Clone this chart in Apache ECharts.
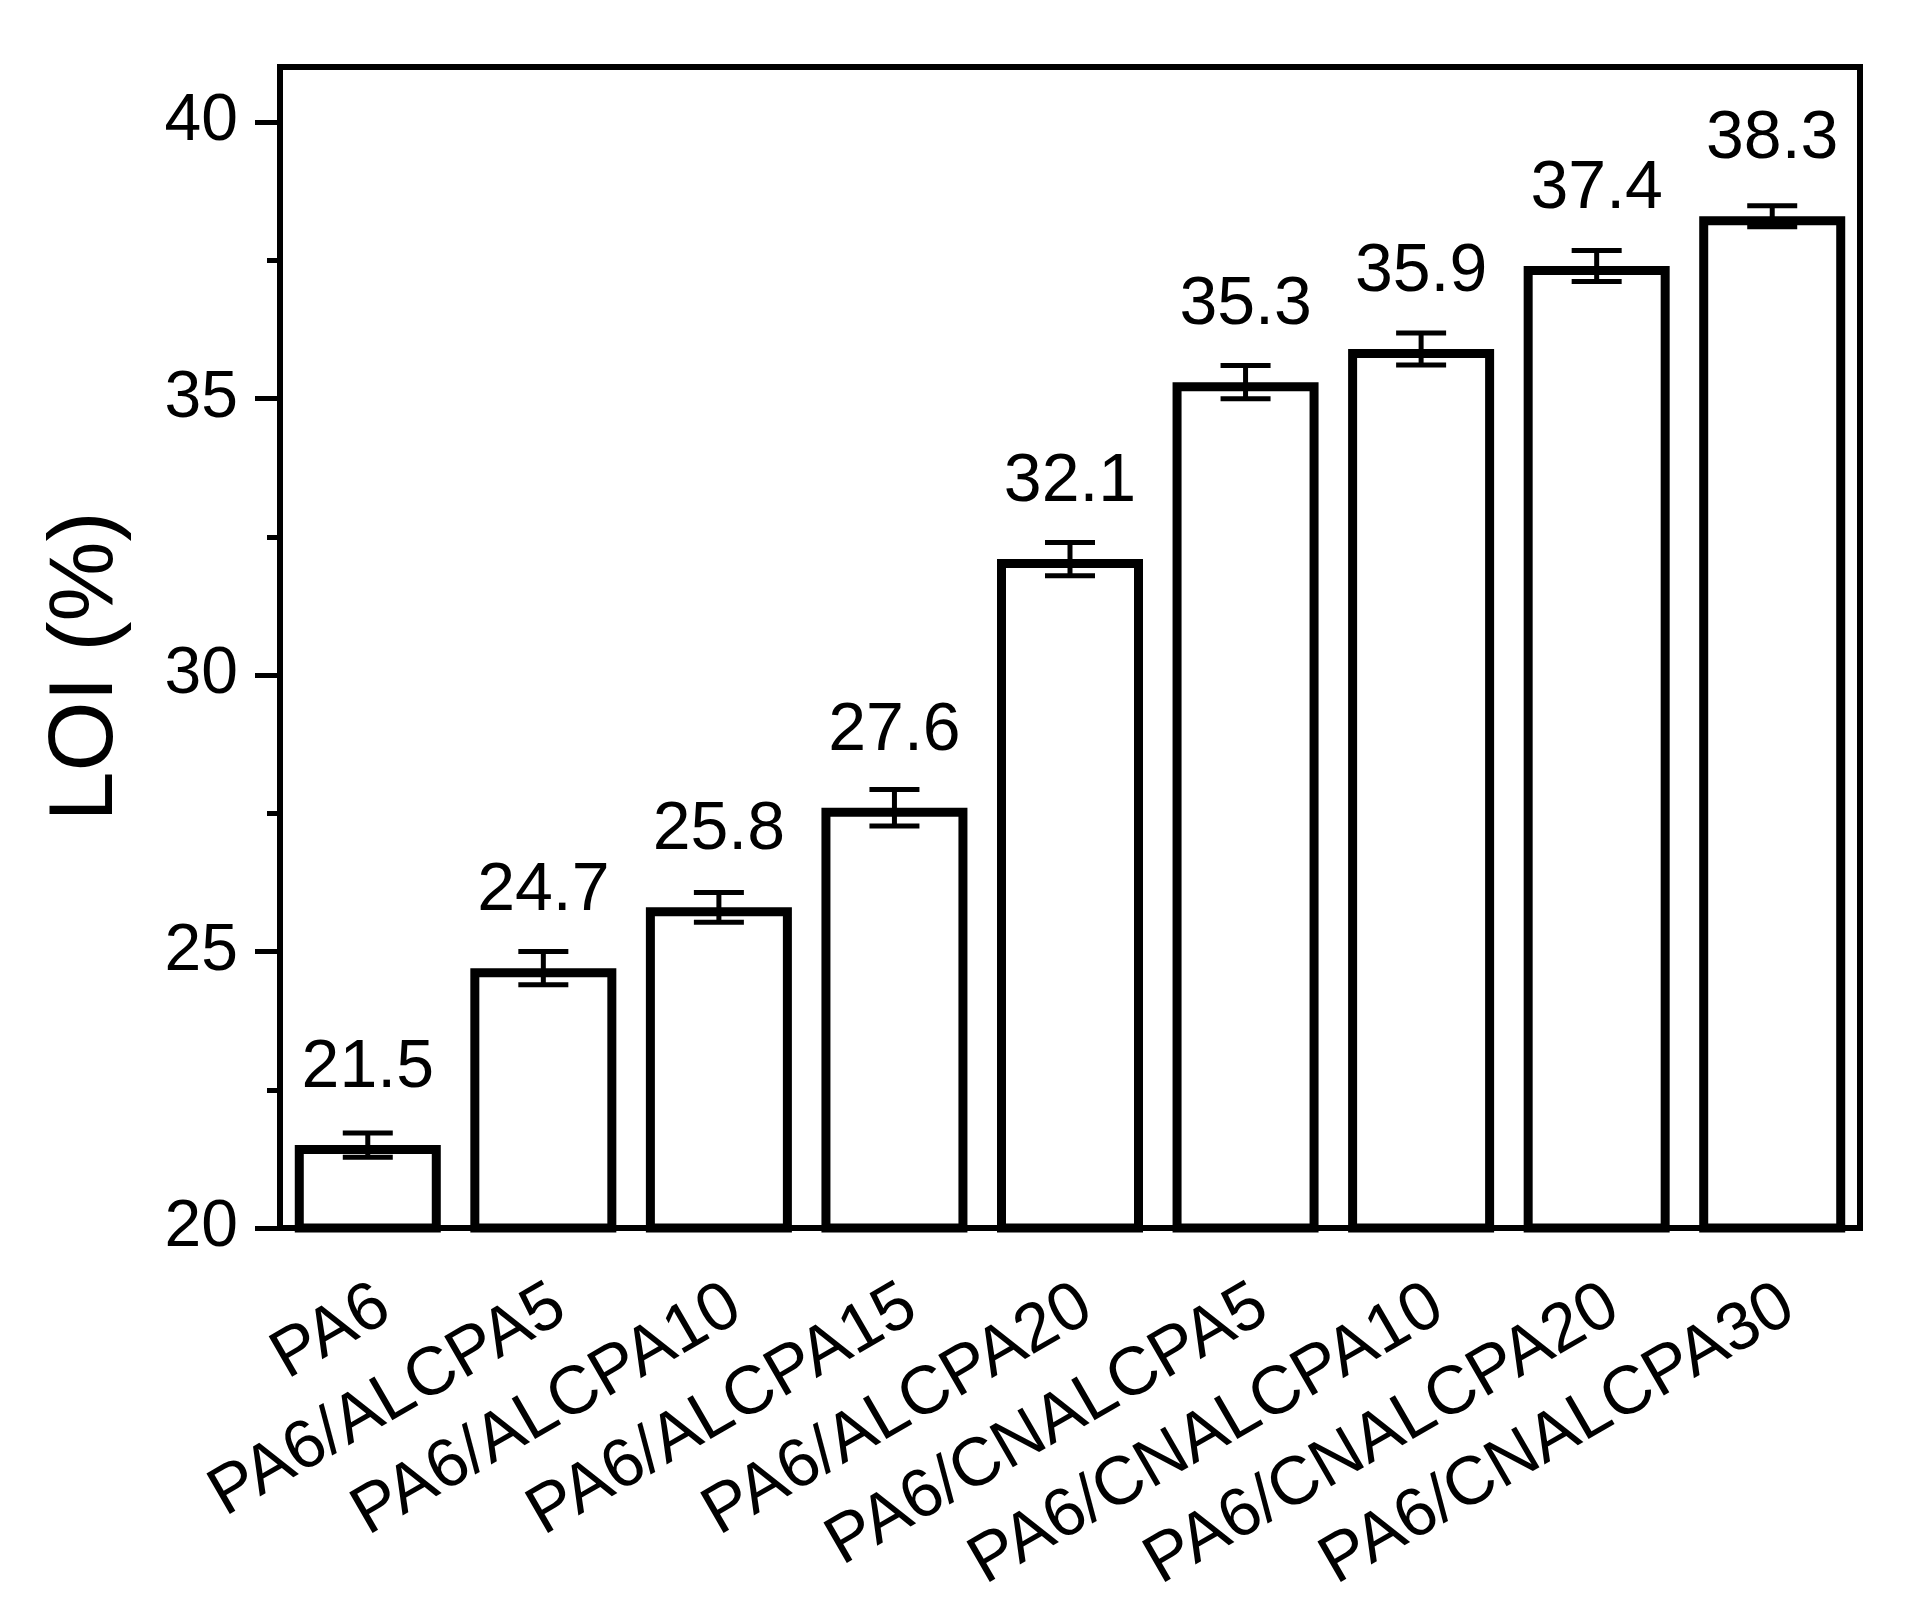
<!DOCTYPE html>
<html>
<head>
<meta charset="utf-8">
<script src="https://cdn.jsdelivr.net/npm/echarts@6/dist/echarts.min.js"></script>
<style>
  html, body { margin: 0; padding: 0; background: #fff; }
  #chart { width: 1910px; height: 1622px; }
</style>
</head>
<body>
<div id="chart"></div>
<script>
const categories = [
  "PA6", "PA6/ALCPA5", "PA6/ALCPA10", "PA6/ALCPA15", "PA6/ALCPA20",
  "PA6/CNALCPA5", "PA6/CNALCPA10", "PA6/CNALCPA20", "PA6/CNALCPA30"
];
const loi = [21.5, 24.7, 25.8, 27.6, 32.1, 35.3, 35.9, 37.4, 38.3];
const loiErr = [0.22, 0.3, 0.27, 0.33, 0.3, 0.3, 0.29, 0.28, 0.19];
const yTicks = [20, 25, 30, 35, 40];
const yMinorTicks = [22.5, 27.5, 32.5, 37.5];

const font = "'Liberation Sans', Arial, sans-serif";

const chart = echarts.init(document.getElementById("chart"));

const errData = categories.map((c, i) => [i, loi[i] - loiErr[i], loi[i] + loiErr[i]]);

const options = {
  animation: false,
  grid: {
    left: 280,
    right: 50,
    top: 67,
    bottom: 394,
    show: true,
    borderColor: "#000",
    borderWidth: 6,
    outerBoundsMode: "none",
  },
  xAxis: {
    type: "category",
    data: categories,
    axisLine: { lineStyle: { color: "#000", width: 6 } },
    axisTick: {
      alignWithLabel: true,
      length: 26,
      lineStyle: { color: "#000", width: 5 },
    },
    axisLabel: {
      interval: 0,
      hideOverlap: false,
      rotate: 30,
      margin: 44,
      verticalAlign: "top",
      fontSize: 68,
      fontFamily: font,
      color: "#000",
    },
    splitLine: { show: false },
  },
  yAxis: [
    {
      type: "value",
      min: 20,
      max: 41,
      name: "LOI (%)",
      nameLocation: "middle",
      nameGap: 148,
      nameTextStyle: { fontSize: 90, fontFamily: font, color: "#000", padding: [0, 38, 0, 0] },
      axisLine: { show: true, lineStyle: { color: "#000", width: 6 } },
      axisTick: {
        show: true,
        length: 25,
        customValues: yTicks,
        lineStyle: { color: "#000", width: 5 },
      },
      axisLabel: {
        customValues: yTicks,
        margin: 42,
        fontSize: 66,
        fontFamily: font,
        color: "#000",
      },
      splitLine: { show: false },
    },
    {
      type: "value",
      min: 20,
      max: 41,
      position: "left",
      axisLine: { show: false },
      axisTick: {
        show: true,
        length: 13,
        customValues: yMinorTicks,
        lineStyle: { color: "#000", width: 5 },
      },
      axisLabel: { show: false },
      splitLine: { show: false },
    },
  ],
  series: [
    {
      type: "bar",
      data: loi,
      barWidth: 146,
      yAxisIndex: 0,
      itemStyle: { color: "#fff", borderColor: "#000", borderWidth: 9 },
      label: {
        show: true,
        position: "top",
        distance: 43,
        fontSize: 68,
        fontFamily: font,
        color: "#000",
        formatter: (p) => p.value.toFixed(1),
      },
      z: 2,
    },
    {
      type: "custom",
      yAxisIndex: 0,
      data: errData,
      z: 3,
      renderItem: (params, api) => {
        const x = api.value(0);
        const top = api.coord([x, api.value(2)]);
        const bot = api.coord([x, api.value(1)]);
        const half = 25;
        const style = { stroke: "#000", lineWidth: 5 };
        return {
          type: "group",
          children: [
            { type: "line", shape: { x1: top[0], y1: top[1], x2: bot[0], y2: bot[1] }, style },
            { type: "line", shape: { x1: top[0] - half, y1: top[1], x2: top[0] + half, y2: top[1] }, style },
            { type: "line", shape: { x1: bot[0] - half, y1: bot[1], x2: bot[0] + half, y2: bot[1] }, style },
          ],
        };
      },
    },
  ],
};

chart.setOption(options);
</script>
</body>
</html>
